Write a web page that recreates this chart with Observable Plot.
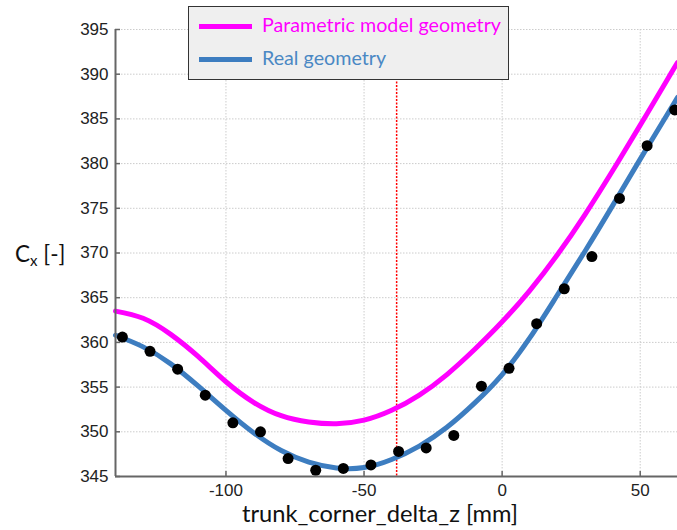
<!DOCTYPE html>
<html>
<head>
<meta charset="utf-8">
<script src="https://cdn.jsdelivr.net/npm/d3@7"></script>
<script src="https://cdn.jsdelivr.net/npm/@observablehq/plot@0.6"></script>
<style>
  html, body { margin: 0; padding: 0; background: #fff; }
  #wrap { position: relative; width: 677px; height: 530px; overflow: hidden; }
  #legend {
    position: absolute; left: 188px; top: 6px; width: 319px; height: 72px;
    background: #efefef; border: 1.5px solid #333; box-sizing: content-box;
    font-family: Lato, "Open Sans", sans-serif; font-size: 19.7px;
  }
  .row { position: absolute; left: 0; height: 20px; }
  .sw { position: absolute; left: 10px; width: 53px; height: 5px; }
  .lab { position: absolute; left: 73px; top: -1px; white-space: nowrap; line-height: 20px; }
  #ylab { position: absolute; left: 15px; top: 240px; font-family: Lato, "Open Sans", sans-serif; font-size: 22.5px; color: #111; }
  #ylab sub { font-size: 15px; vertical-align: -4px; }
  #xlab { position: absolute; left: 0; width: 760px; text-align: center; top: 499px; font-family: Lato, "Open Sans", sans-serif; font-size: 23.7px; color: #111; }
</style>
</head>
<body>
<div id="wrap"></div>
<script>
// Fitted curves
const curveX = [-140, -130, -120, -110, -100, -90, -80, -70, -60, -50, -40, -30, -20, -10, 0, 10, 20, 30, 40, 50, 60, 63.5];
const parametricY = [363.5, 362.7, 360.9, 358.4, 355.6, 353.3, 351.8, 351.1, 350.9, 351.3, 352.4, 354.1, 356.4, 359.2, 362.3, 365.8, 369.8, 374.3, 379.2, 384.3, 389.5, 391.3];
const realY = [360.8, 359.5, 357.6, 355.1, 352.4, 349.9, 347.9, 346.6, 345.95, 346.0, 346.9, 348.4, 350.5, 353.2, 356.4, 360.5, 365.3, 370.2, 375.3, 380.5, 385.6, 387.4];
// Measured samples
const sampleX = [-137.5, -127.5, -117.5, -107.5, -97.5, -87.5, -77.5, -67.5, -57.5, -47.5, -37.5, -27.5, -17.5, -7.5, 2.5, 12.5, 22.5, 32.5, 42.5, 52.5, 62.5];
const sampleY = [360.6, 359.0, 357.0, 354.1, 351.0, 350.0, 347.0, 345.7, 345.9, 346.3, 347.8, 348.2, 349.6, 355.1, 357.1, 362.1, 366.0, 369.6, 376.1, 382.0, 386.0];
const markerX = [-38.2];
const xTicks = [-100, -50, 0, 50];
const yTicks = [345, 350, 355, 360, 365, 370, 375, 380, 385, 390, 395];
const seriesNames = ["Parametric model geometry", "Real geometry"];
const seriesColors = ["#ff00ff", "#3d7dc0"];

const param = curveX.map((x, i) => ({x, y: parametricY[i]}));
const real = curveX.map((x, i) => ({x, y: realY[i]}));
const samples = sampleX.map((x, i) => ({x, y: sampleY[i]}));

const chart = Plot.plot({
  width: 677,
  height: 530,
  marginTop: 29,
  marginBottom: 54,
  marginLeft: 115,
  marginRight: 0,
  style: {fontFamily: "'Liberation Sans', Arial, sans-serif", fontSize: "17px", color: "#222", background: "#fff"},
  x: {domain: [-140, 63.5]},
  y: {domain: [345, 395]},
  marks: [
    Plot.gridX(xTicks, {stroke: "#cccccc", strokeOpacity: 1, strokeDasharray: "1.5,1.5"}),
    Plot.gridY(yTicks, {stroke: "#cccccc", strokeOpacity: 1, strokeDasharray: "1.5,1.5"}),
    Plot.ruleX(markerX, {stroke: "#ff0000", strokeWidth: 1.5, strokeDasharray: "2,1.5"}),
    Plot.line(param, {x: "x", y: "y", stroke: seriesColors[0], strokeWidth: 5, curve: "natural"}),
    Plot.line(real, {x: "x", y: "y", stroke: seriesColors[1], strokeWidth: 5, curve: "natural"}),
    Plot.dot(samples, {x: "x", y: "y", r: 5.5, fill: "#000", stroke: "none"}),
    Plot.ruleX([-140], {stroke: "#666", strokeWidth: 2}),
    Plot.ruleY([345], {stroke: "#666", strokeWidth: 2}),
    Plot.axisY(yTicks, {anchor: "left", tickSize: -5, tickPadding: 12, stroke: "#666", strokeWidth: 1.5, label: null, tickFormat: d => String(d)}),
    Plot.axisX(xTicks, {anchor: "bottom", tickSize: -5, tickPadding: 12, stroke: "#666", strokeWidth: 1.5, label: null, tickFormat: d => String(d)})
  ]
});

const wrap = document.getElementById("wrap");
wrap.appendChild(chart);

const legend = document.createElement("div");
legend.id = "legend";
seriesNames.forEach((name, i) => {
  const row = document.createElement("div");
  row.className = "row";
  row.style.top = (i === 0 ? 9 : 42) + "px";
  const sw = document.createElement("div");
  sw.className = "sw";
  sw.style.background = seriesColors[i];
  sw.style.top = "8px";
  const lab = document.createElement("div");
  lab.className = "lab";
  lab.textContent = name;
  lab.style.color = i === 0 ? "#ff00ff" : "#4a88c4";
  row.appendChild(sw);
  row.appendChild(lab);
  legend.appendChild(row);
});
wrap.appendChild(legend);

const ylab = document.createElement("div");
ylab.id = "ylab";
ylab.innerHTML = "C<sub>x</sub> [-]";
wrap.appendChild(ylab);

const xlab = document.createElement("div");
xlab.id = "xlab";
xlab.textContent = "trunk_corner_delta_z [mm]";
wrap.appendChild(xlab);
</script>
</body>
</html>
